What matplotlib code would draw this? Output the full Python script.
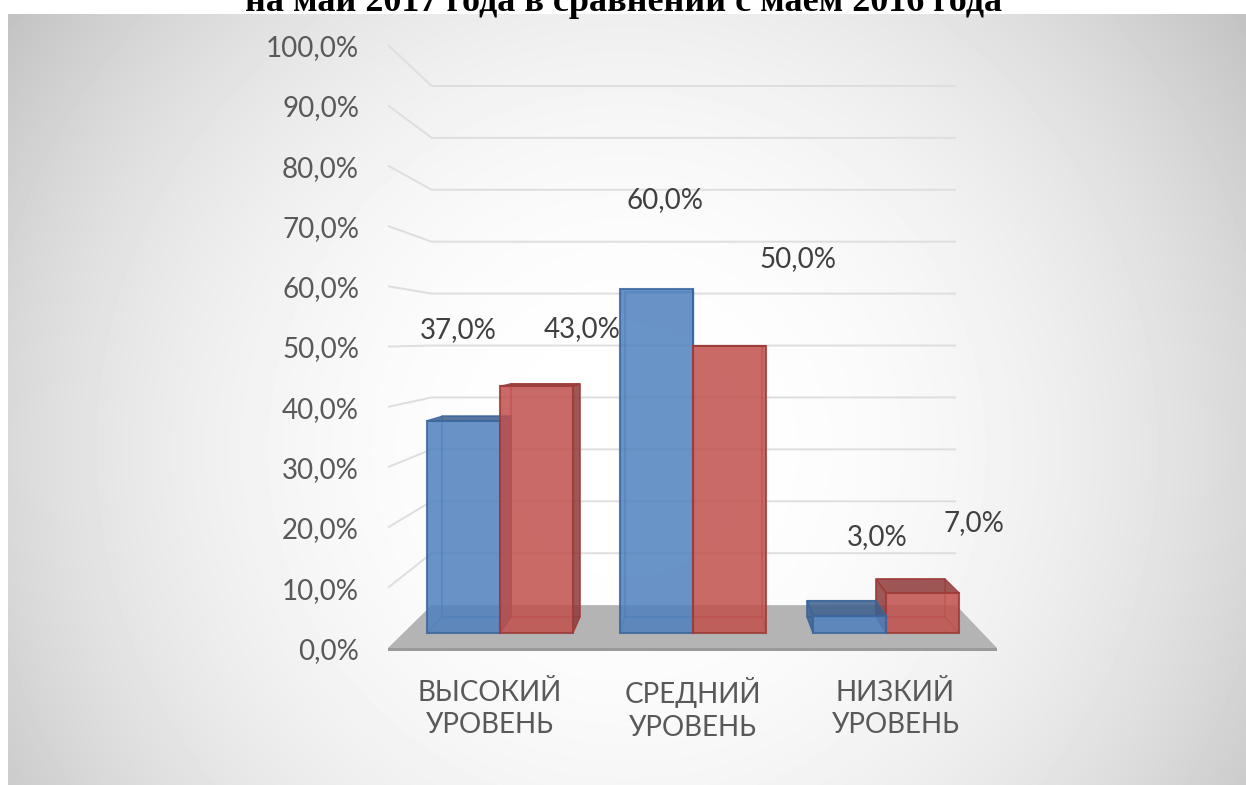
import numpy as np
import matplotlib
matplotlib.use('Agg')
import matplotlib.pyplot as plt
from matplotlib.patches import Polygon

# ---------------- data ----------------
categories = ['ВЫСОКИЙ\nУРОВЕНЬ', 'СРЕДНИЙ\nУРОВЕНЬ', 'НИЗКИЙ\nУРОВЕНЬ']
series_blue = [37.0, 60.0, 3.0]
series_red = [43.0, 50.0, 7.0]
y_ticks = [0, 10, 20, 30, 40, 50, 60, 70, 80, 90, 100]
y_tick_labels = ['0,0%', '10,0%', '20,0%', '30,0%', '40,0%', '50,0%',
                 '60,0%', '70,0%', '80,0%', '90,0%', '100,0%']
title = 'на май 2017 года в сравнении с маем 2016 года'

# ---------------- styles ----------------
W, H = 1246, 785
BLUE, BLUE_EDGE, BLUE_DARK = '#4F81BD', '#3A669E', '#3C5F8C'
RED, RED_EDGE, RED_DARK = '#C0504D', '#9E3B39', '#8E3A38'
TXT = '#595959'
FONT = ['Lato', 'Open Sans', 'DejaVu Sans']

fig = plt.figure(figsize=(W / 100, H / 100), dpi=100)
ax = fig.add_axes([0, 0, 1, 1])
ax.set_xlim(0, W)
ax.set_ylim(H, 0)
ax.axis('off')

# background radial gradient of the chart area
x0, y0 = 8, 14
xx, yy = np.meshgrid(np.arange(x0, W) + 0.5, np.arange(y0, H) + 0.5)
r = np.hypot(xx - 627, yy - 450)
g = np.clip(255 - 40 * (r / 630) ** 2.3, 0, 255) / 255.0
ax.imshow(g, cmap='gray', vmin=0, vmax=1, extent=(x0, W, H, y0),
          zorder=0, interpolation='bilinear', aspect='auto')

# ---------------- perspective projection ----------------
CX, CY = 702.0, 339.3      # screen point of the eye axis
EX, EY = 314.0, 51.2       # eye position (x in front units, y in %)
PX_PER_PCT = 6.03          # vertical scale at the front of the floor
CAT_W = 203.0              # category width in front units
GAP = 24.8
BAR_W = 76.7
ZB = 0.1614                # back wall depth
Z0, Z1 = 0.0504, 0.1123    # bar front / back depth
NCAT = len(categories)
XR = NCAT * CAT_W


def proj(X, Y, Z):
    m = 1.0 / (1.0 + Z)
    return CX + m * (X - EX), CY - PX_PER_PCT * m * (Y - EY)


# grid lines (back wall + left wall)
for t in y_ticks[1:]:
    a = proj(0, t, 0)
    b = proj(0, t, ZB)
    c = proj(XR, t, ZB)
    ax.plot([a[0], b[0], c[0]], [a[1], b[1], c[1]], color='#dedede',
            lw=1.4, zorder=1, solid_capstyle='butt')

# floor
floor = [proj(0, 0, 0), proj(XR, 0, 0), proj(XR, 0, ZB), proj(0, 0, ZB)]
ax.add_patch(Polygon(floor, closed=True, fc='#b4b4b4', ec='none', zorder=2))
front_edge = [proj(0, 0, 0), proj(XR, 0, 0), proj(XR, -0.45, 0), proj(0, -0.45, 0)]
ax.add_patch(Polygon(front_edge, closed=True, fc='#9a9a9a', ec='none', zorder=2))

# bars
bars = []
for i in range(NCAT):
    for s, (vals, fc, ec, dc) in enumerate([(series_blue, BLUE, BLUE_EDGE, BLUE_DARK),
                                              (series_red, RED, RED_EDGE, RED_DARK)]):
        X0 = i * CAT_W + GAP + s * BAR_W
        bars.append((X0, X0 + BAR_W, vals[i], fc, ec, dc))

left = sorted([b for b in bars if (b[0] + b[1]) / 2 < EX], key=lambda b: b[0])
right = sorted([b for b in bars if (b[0] + b[1]) / 2 >= EX], key=lambda b: -b[0])
z = 3
ALPHA = 0.85
for (Xa, Xb, Y, fc, ec, dc) in left + right:
    # hidden back edges
    back = [proj(Xa, 0, Z1), proj(Xb, 0, Z1), proj(Xb, Y, Z1), proj(Xa, Y, Z1)]
    ax.add_patch(Polygon(back, closed=True, fc='none', ec=ec, lw=1.2,
                         alpha=0.6, zorder=z))
    for Xs in (Xa, Xb):
        p, q = proj(Xs, 0, Z0), proj(Xs, 0, Z1)
        ax.plot([p[0], q[0]], [p[1], q[1]], color=ec, lw=1.0, alpha=0.6, zorder=z)
    # visible side
    if Xb < EX:
        side = [proj(Xb, 0, Z0), proj(Xb, 0, Z1), proj(Xb, Y, Z1), proj(Xb, Y, Z0)]
        ax.add_patch(Polygon(side, closed=True, fc=dc, ec=ec, lw=1.0,
                             alpha=ALPHA, zorder=z + 0.1))
    elif Xa > EX:
        side = [proj(Xa, 0, Z0), proj(Xa, 0, Z1), proj(Xa, Y, Z1), proj(Xa, Y, Z0)]
        ax.add_patch(Polygon(side, closed=True, fc=dc, ec=ec, lw=1.0,
                             alpha=ALPHA, zorder=z + 0.1))
    # top
    if Y < EY:
        top = [proj(Xa, Y, Z0), proj(Xb, Y, Z0), proj(Xb, Y, Z1), proj(Xa, Y, Z1)]
        ax.add_patch(Polygon(top, closed=True, fc=dc, ec=ec, lw=1.0,
                             alpha=ALPHA, zorder=z + 0.2))
    # front
    front = [proj(Xa, 0, Z0), proj(Xb, 0, Z0), proj(Xb, Y, Z0), proj(Xa, Y, Z0)]
    ax.add_patch(Polygon(front, closed=True, fc=fc, ec=ec, lw=1.5,
                         alpha=ALPHA, zorder=z + 0.3))
    z += 1

# y tick labels
for t, lab in zip(y_ticks, y_tick_labels):
    u, v = proj(0, t, 0)
    ax.text(u - 29, v + 3, lab, ha='right', va='center', fontsize=20,
            color=TXT, family=FONT, zorder=20)

# category labels
for i, lab in enumerate(categories):
    u, v = proj((i + 0.5) * CAT_W, 0, 0)
    ax.text(u, v + 61, lab, ha='center', va='center', fontsize=20,
            color=TXT, family=FONT, linespacing=1.3, zorder=20)

# data labels (offsets from top-centre of each bar front face, in pixels)
label_offsets = {
    ('b', 0): (-5, -91), ('r', 0): (46, -57),
    ('b', 1): (9, -89), ('r', 1): (68, -87),
    ('b', 2): (28, -79), ('r', 2): (51, -70),
}
for i in range(NCAT):
    for s, (key, vals) in enumerate([('b', series_blue), ('r', series_red)]):
        Xc = i * CAT_W + GAP + s * BAR_W + BAR_W / 2
        u, v = proj(Xc, vals[i], Z0)
        dx, dy = label_offsets[(key, i)]
        ax.text(u + dx, v + dy, f'{vals[i]:.1f}%'.replace('.', ','),
                ha='center', va='center', fontsize=20, color='#404040',
                family=FONT, zorder=20)

# title (cut off at the top of the page, as in the source document)
ax.text(624, 11, title, ha='center', va='baseline', fontsize=26,
        fontweight='bold', family=['Liberation Serif', 'DejaVu Serif'],
        color='black', zorder=20)

fig.savefig('out.png', dpi=100)
